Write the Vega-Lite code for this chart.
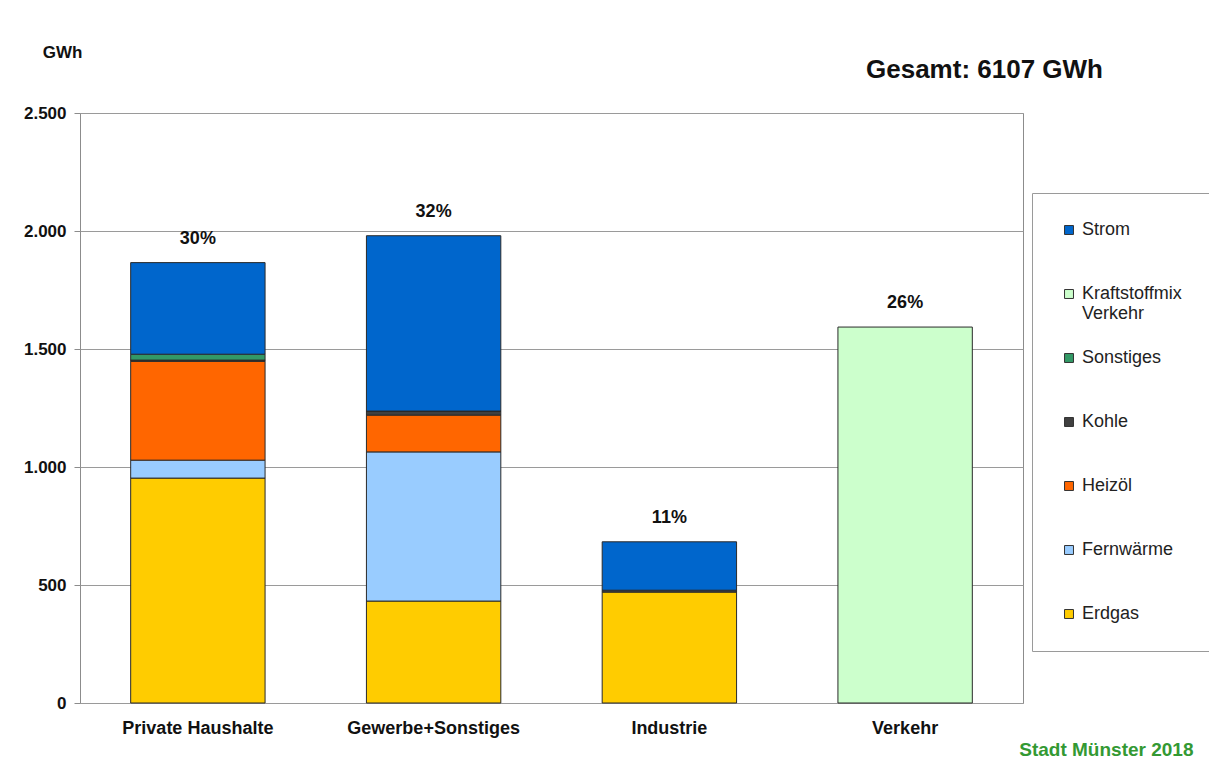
{
  "$schema": "https://vega.github.io/schema/vega-lite/v6.json",
  "autosize": {"type": "none"},
  "width": 943,
  "height": 590,
  "padding": {"left": 80, "top": 113, "right": 186, "bottom": 63},
  "background": "white",
  "title": {
    "text": "Gesamt: 6107 GWh",
    "anchor": "end",
    "frame": "group",
    "dx": 80,
    "offset": -40,
    "font": "Liberation Sans",
    "fontSize": 26,
    "fontWeight": "bold",
    "color": "#111"
  },
  "config": {
    "font": "Liberation Sans",
    "view": {"stroke": "#8c8c8c", "strokeWidth": 1},
    "axis": {"labelFont": "Liberation Sans", "titleFont": "Liberation Sans"}
  },
  "encoding": {
    "x": {
      "field": "Sektor",
      "type": "nominal",
      "sort": ["Private Haushalte", "Gewerbe+Sonstiges", "Industrie", "Verkehr"],
      "scale": {"paddingInner": 0.43, "paddingOuter": 0.215},
      "axis": {
        "labelAngle": 0,
        "labelFontSize": 18,
        "labelFontWeight": "bold",
        "labelColor": "#111",
        "labelPadding": 16,
        "ticks": false,
        "domain": false,
        "title": "Stadt Münster 2018",
        "titleColor": "#339933",
        "titleFontSize": 19,
        "titleFontWeight": "bold",
        "titleAlign": "right",
        "titleAnchor": null,
        "titleX": 1113,
        "titleY": 46,
        "titleBaseline": "middle"
      }
    }
  },
  "layer": [
    {
      "data": {
        "values": [
          {"Sektor": "Private Haushalte", "Energieträger": "Erdgas", "GWh": 953},
          {"Sektor": "Private Haushalte", "Energieträger": "Fernwärme", "GWh": 76},
          {"Sektor": "Private Haushalte", "Energieträger": "Heizöl", "GWh": 419},
          {"Sektor": "Private Haushalte", "Energieträger": "Kohle", "GWh": 5},
          {"Sektor": "Private Haushalte", "Energieträger": "Sonstiges", "GWh": 25},
          {"Sektor": "Private Haushalte", "Energieträger": "Strom", "GWh": 388},
          {"Sektor": "Gewerbe+Sonstiges", "Energieträger": "Erdgas", "GWh": 432},
          {"Sektor": "Gewerbe+Sonstiges", "Energieträger": "Fernwärme", "GWh": 632},
          {"Sektor": "Gewerbe+Sonstiges", "Energieträger": "Heizöl", "GWh": 156},
          {"Sektor": "Gewerbe+Sonstiges", "Energieträger": "Kohle", "GWh": 17},
          {"Sektor": "Gewerbe+Sonstiges", "Energieträger": "Sonstiges", "GWh": 0},
          {"Sektor": "Gewerbe+Sonstiges", "Energieträger": "Strom", "GWh": 743},
          {"Sektor": "Industrie", "Energieträger": "Erdgas", "GWh": 470},
          {"Sektor": "Industrie", "Energieträger": "Kohle", "GWh": 8},
          {"Sektor": "Industrie", "Energieträger": "Strom", "GWh": 205},
          {"Sektor": "Verkehr", "Energieträger": "Kraftstoffmix Verkehr", "GWh": 1593}
        ]
      },
      "transform": [
        {"calculate": "indexof(['Erdgas','Fernwärme','Heizöl','Kohle','Sonstiges','Kraftstoffmix Verkehr','Strom'], datum['Energieträger'])", "as": "stackIndex"}
      ],
      "mark": {"type": "bar", "stroke": "#2a2a2a", "strokeWidth": 1},
      "encoding": {
        "y": {
          "field": "GWh",
          "type": "quantitative",
          "stack": "zero",
          "scale": {"domain": [0, 2500], "nice": false},
          "axis": {
            "values": [0, 500, 1000, 1500, 2000, 2500],
            "labelExpr": "replace(format(datum.value, ','), ',', '.')",
            "labelFontSize": 17,
            "labelFontWeight": "bold",
            "labelColor": "#111",
            "labelPadding": 8,
            "tickSize": 6,
            "tickColor": "#8c8c8c",
            "domain": false,
            "grid": true,
            "gridColor": "#9a9a9a",
            "gridWidth": 1,
            "title": "GWh",
            "titleAngle": 0,
            "titleFontSize": 17,
            "titleFontWeight": "bold",
            "titleColor": "#111",
            "titleAlign": "center",
            "titleAnchor": null,
            "titleX": -18,
            "titleY": -61,
            "titleBaseline": "middle"
          }
        },
        "color": {
          "field": "Energieträger",
          "type": "nominal",
          "scale": {
            "domain": ["Strom", "Kraftstoffmix Verkehr", "Sonstiges", "Kohle", "Heizöl", "Fernwärme", "Erdgas"],
            "range": ["#0066CC", "#CCFFCC", "#339966", "#404040", "#FF6600", "#99CCFF", "#FFCC00"]
          },
          "legend": {
            "title": null,
            "orient": "none",
            "legendX": 952,
            "legendY": 80,
            "strokeColor": "#9a9a9a",
            "fillColor": "white",
            "padding": 28,
            "gridAlign": "all",
            "rowPadding": 26,
            "symbolType": "square",
            "symbolSize": 80,
            "symbolStrokeColor": "#333",
            "symbolStrokeWidth": 1,
            "symbolOpacity": 1,
            "labelFont": "Liberation Sans",
            "labelFontSize": 18,
            "labelColor": "#222",
            "labelLimit": 300,
            "labelOffset": 4,
            "labelExpr": "datum.label == 'Kraftstoffmix Verkehr' ? ['Kraftstoffmix', 'Verkehr'] : datum.label"
          }
        },
        "order": {"field": "stackIndex", "type": "quantitative", "sort": "ascending"}
      }
    },
    {
      "data": {
        "values": [
          {"Sektor": "Private Haushalte", "Summe": 1866, "Anteil": "30%"},
          {"Sektor": "Gewerbe+Sonstiges", "Summe": 1980, "Anteil": "32%"},
          {"Sektor": "Industrie", "Summe": 683, "Anteil": "11%"},
          {"Sektor": "Verkehr", "Summe": 1593, "Anteil": "26%"}
        ]
      },
      "mark": {"type": "text", "dy": -24, "baseline": "middle", "fontSize": 18, "fontWeight": "bold", "color": "#111", "font": "Liberation Sans"},
      "encoding": {
        "y": {"field": "Summe", "type": "quantitative", "scale": {"domain": [0, 2500], "nice": false}},
        "text": {"field": "Anteil"}
      }
    }
  ]
}
